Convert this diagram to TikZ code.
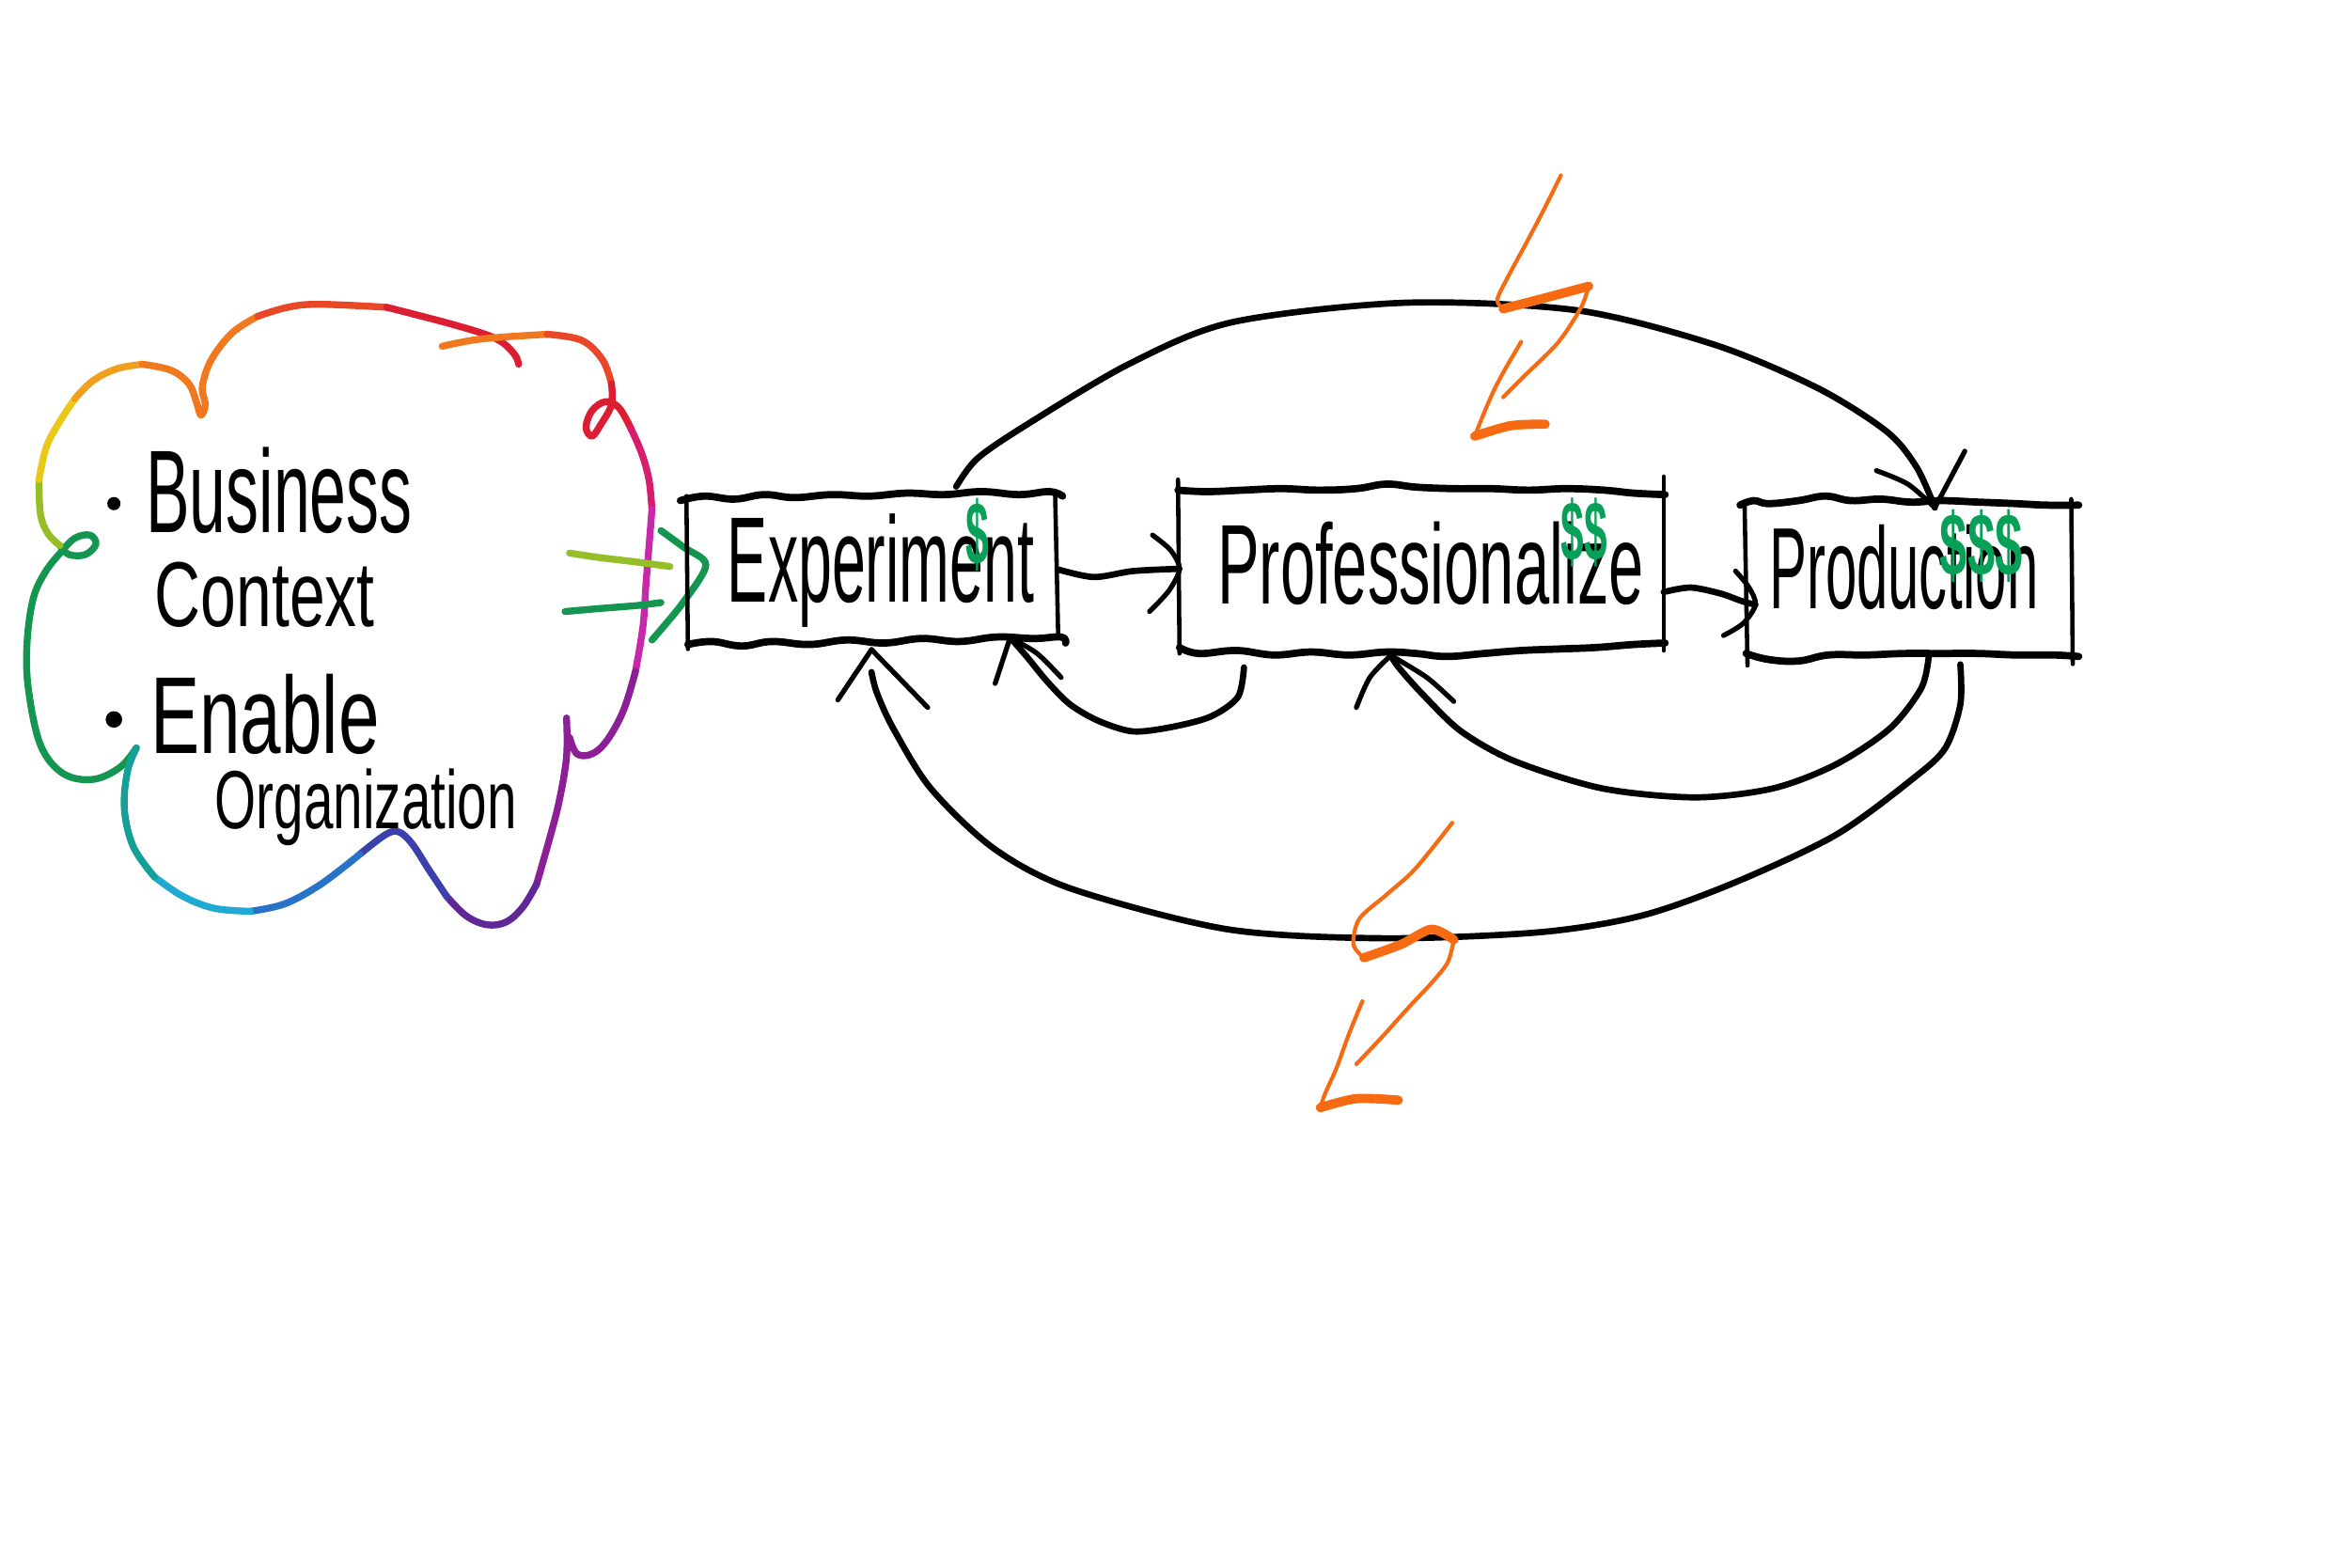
\documentclass[tikz,border=0pt]{standalone}
\usepackage{fontspec}
\setmainfont{Liberation Sans}
\usepackage{graphicx}
\definecolor{inkgreen}{RGB}{8,160,88}
\definecolor{boltorange}{RGB}{246,106,18}
\definecolor{cloudA}{RGB}{20,150,80}
\definecolor{cloudB}{RGB}{150,190,40}
\definecolor{cloudC}{RGB}{232,200,25}
\definecolor{cloudD}{RGB}{240,160,30}
\definecolor{cloudE}{RGB}{240,120,30}
\definecolor{cloudF}{RGB}{232,72,40}
\definecolor{cloudG}{RGB}{220,30,50}
\definecolor{cloudH}{RGB}{215,30,110}
\definecolor{cloudI}{RGB}{200,40,170}
\definecolor{cloudJ}{RGB}{140,30,150}
\definecolor{cloudK}{RGB}{95,40,150}
\definecolor{cloudL}{RGB}{60,65,170}
\definecolor{cloudM}{RGB}{40,115,200}
\definecolor{cloudN}{RGB}{30,170,210}
\definecolor{cloudO}{RGB}{20,160,150}
\tikzset{
  cloudline/.style={line width=2.1pt, line cap=round, line join=round, draw=#1},
  conn/.style={line width=1.9pt, line cap=round, line join=round, black},
  arm/.style={line width=1.5pt, line cap=round, line join=round, black},
  edgeH/.style={line width=2.2pt, line cap=round, line join=round, black},
  edgeV/.style={line width=1.3pt, line cap=round, black},
  boltthin/.style={boltorange, line width=1.2pt, line cap=round, line join=round},
  boltthick/.style={boltorange, line width=2.8pt, line cap=round, line join=round},
  hw/.style={inner sep=0pt, anchor=base west},
  boxn/.style={inner sep=0pt, draw=none, rectangle},
  dollar/.style={inner sep=0pt, text=inkgreen, font=\bfseries},
  bullet/.style={circle, fill=black, inner sep=0pt, minimum size=#1}
}
\begin{document}
\begin{tikzpicture}[x=0.015944cm, y=-0.015944cm]
\fill[white] (0,0) rectangle (1568,1046);
\useasboundingbox (0,0) rectangle (1568,1046);

% ---------- cloud (rainbow outline) ----------
\draw[cloudline=cloudA] plot[smooth, tension=0.6] coordinates {(91,499) (80,512) (62,520) (42,516) (27,497) (19,460) (18,430) (22,400) (30,382) (41,368) (50,359) (60,357) (64,363) (57,370) (46,370) (40,364)};
\draw[cloudline=cloudB] plot[smooth, tension=0.6] coordinates {(40,364) (32,356) (27,343) (26,320)};
\draw[cloudline=cloudC] plot[smooth, tension=0.6] coordinates {(26,320) (31,298) (40,281) (50,266)};
\draw[cloudline=cloudD] plot[smooth, tension=0.6] coordinates {(50,266) (62,254) (78,246) (95,243)};
\draw[cloudline=cloudE] plot[smooth, tension=0.6] coordinates {(95,243) (114,247) (126,256) (131,268) (134,277) (137,270) (135,258) (141,240) (155,222) (172,211)};
\draw[cloudline=cloudF] plot[smooth, tension=0.6] coordinates {(172,211) (192,205) (213,203) (258,205)};
\draw[cloudline=cloudG] plot[smooth, tension=0.6] coordinates {(258,205) (304,217) (331,226) (343,236) (346,243)};
\draw[cloudline=cloudE] plot[smooth, tension=0.6] coordinates {(295,231) (315,227) (334,225) (365,223)};
\draw[cloudline=cloudF] plot[smooth, tension=0.6] coordinates {(365,223) (388,227) (402,240) (408,256)};
\draw[cloudline=cloudG] plot[smooth, tension=0.6] coordinates {(408,256) (408,270) (401,283) (395,291) (391,285) (395,274) (404,268) (413,272) (421,286)};
\draw[cloudline=cloudH] plot[smooth, tension=0.6] coordinates {(421,286) (428,302) (433,320) (435,340)};
\draw[cloudline=cloudI] plot[smooth, tension=0.6] coordinates {(435,340) (433,365) (431,390) (429,418) (424,448)};
\draw[cloudline=cloudJ] plot[smooth, tension=0.6] coordinates {(424,448) (416,474) (405,494) (395,503) (385,503) (380,492)};
\draw[cloudline=cloudJ] plot[smooth, tension=0.6] coordinates {(378,479) (378,505) (373,535) (366,562) (358,590)};
\draw[cloudline=cloudK] plot[smooth, tension=0.6] coordinates {(358,590) (349,605) (338,615) (325,617) (311,611) (298,598)};
\draw[cloudline=cloudL] plot[smooth, tension=0.6] coordinates {(298,598) (286,580) (275,563) (266,555) (257,557) (240,570)};
\draw[cloudline=cloudM] plot[smooth, tension=0.6] coordinates {(240,570) (214,590) (190,603) (167,608)};
\draw[cloudline=cloudN] plot[smooth, tension=0.6] coordinates {(167,608) (143,606) (122,598) (103,585)};
\draw[cloudline=cloudO] plot[smooth, tension=0.6] coordinates {(103,585) (89,565) (83,540) (85,515) (91,499)};

% cloud -> Experiment arrow
\draw[cloudline=cloudB] plot[smooth] coordinates {(380,369) (400,372) (425,375) (447,378)};
\draw[cloudline=cloudA] plot[smooth] coordinates {(377,408) (400,406) (425,404) (441,402)};
\draw[cloudline=cloudA] plot[smooth, tension=0.5] coordinates {(441,354) (456,365) (471,377) (455,403) (435,427)};

% cloud texts
\node[bullet=4pt] (b1) at (76,336) {};
\node[bullet=5pt] (b2) at (76,480) {};
\node[hw] (tBus) at (97,355) {\resizebox{80.6pt}{25.8pt}{Business}};
\node[hw] (tCon) at (103,418) {\resizebox{66.5pt}{19.5pt}{Context}};
\node[hw] (tEna) at (100,503) {\resizebox{69.3pt}{24pt}{Enable}};
\node[hw] (tOrg) at (143,553) {\resizebox{91.4pt}{18.1pt}{Organization}};

% ---------- boxes ----------
\node[boxn, minimum width=112.7pt, minimum height=43.5pt] (exp) at (581.5,380) {};
\node[boxn, minimum width=146.2pt, minimum height=48.4pt] (prof) at (948.5,379.5) {};
\node[boxn, minimum width=99.6pt, minimum height=47.5pt] (prod) at (1273.5,387.5) {};

% Experiment border
\draw[edgeH] plot[smooth, tension=0.7] coordinates {(454,334) (470,331) (490,333) (510,330) (530,332) (555,330) (580,331) (605,329) (630,330) (655,328) (680,330) (700,328) (709,331)};
\draw[edgeV] (458,331) -- (459,433);
\draw[edgeV] (704,329) -- (706,422);
\draw[edgeH] plot[smooth, tension=0.7] coordinates {(459,430) (475,428) (495,431) (515,428) (540,430) (565,427) (590,429) (615,426) (640,428) (665,425) (690,426) (708,425) (711,429)};
% Professionalize border
\draw[edgeH] plot[smooth, tension=0.7] coordinates {(786,327) (805,328) (830,327) (855,326) (880,327) (905,326) (925,323) (945,325) (970,326) (995,326) (1020,327) (1045,326) (1070,327) (1090,329) (1111,330)};
\draw[edgeV] (786,320) -- (787,436);
\draw[edgeV] (1110,318) -- (1110,434);
\draw[edgeH] plot[smooth, tension=0.7] coordinates {(787,432) (800,436) (825,434) (850,437) (875,435) (900,437) (925,435) (945,436) (965,438) (990,436) (1015,434) (1040,433) (1065,432) (1090,430) (1111,429)};
% Production border
\draw[edgeH] plot[smooth, tension=0.7] coordinates {(1161,337) (1170,334) (1180,336) (1200,334) (1218,331) (1235,334) (1255,333) (1275,335) (1295,334) (1320,335) (1345,336) (1365,337) (1387,337)};
\draw[edgeV] (1164,335) -- (1166,444);
\draw[edgeV] (1382,333) -- (1383,443);
\draw[edgeH] plot[smooth, tension=0.7] coordinates {(1165,436) (1180,440) (1200,441) (1220,437) (1245,437) (1270,436) (1295,436) (1320,436) (1345,437) (1370,437) (1387,438)};

% box texts
\node[hw] (tExp) at (485,402) {\resizebox{92.8pt}{26.7pt}{Experiment}};
\node[hw] (tProf) at (812,403) {\resizebox{129pt}{24.9pt}{Professionalize}};
\node[hw] (tProd) at (1180,406) {\resizebox{81.5pt}{25.4pt}{Production}};
\node[dollar] (d1) at (652,357) {\resizebox{7pt}{20pt}{\$}};
\node[dollar] (d2) at (1057,355) {\resizebox{14pt}{19pt}{\$\$}};
\node[dollar] (d3) at (1322,364) {\resizebox{25pt}{20pt}{\$\$\$}};

% ---------- connectors ----------
% Experiment -> Professionalize
\draw[conn] plot[smooth] coordinates {(exp.east) (730,385) (756,381) (prof.west)};
\draw[arm] plot[smooth] coordinates {(769,357) (781,367) (prof.west) (780,394) (767,408)};
% Professionalize -> Production
\coordinate (pp1) at ([shift={(0,15.5)}]prof.east);
\coordinate (pp2) at ([shift={(8,16)}]prod.west);
\draw[conn] plot[smooth] coordinates {(pp1) (1128,392) (1148,396) (1162,401) (pp2)};
\draw[arm] plot[smooth] coordinates {(1158,381) (1167,392) (pp2) (1163,416) (1150,424)};
% top arc Experiment -> Production
\coordinate (aS) at ([shift={(56.5,-7)}]exp.north);
\coordinate (aE) at ([shift={(17.5,4)}]prod.north);
\draw[conn] plot[smooth] coordinates {(aS) (652,306) (684,284) (753,243) (822,215) (937,202) (1052,207) (1144,230) (1213,259) (1259,288) (1279,312) (aE)};
\draw[arm] plot[smooth] coordinates {(1252,314) (1273,323) (aE)};
\draw[arm] (1311,301) -- (aE);
% small arc Professionalize -> Experiment
\coordinate (sS) at ([shift={(-118.5,12)}]prof.south);
\coordinate (sE) at ([shift={(92.5,-3)}]exp.south);
\draw[conn] plot[smooth] coordinates {(sS) (826,465) (808,478) (782,485) (756,488) (733,481) (714,470) (699,455) (685,438) (sE)};
\draw[arm] (sE) -- (664,456);
\draw[arm] plot[smooth] coordinates {(sE) (692,436) (708,452)};
% medium arc Production -> Professionalize
\coordinate (mS) at ([shift={(13.5,-3)}]prod.south);
\coordinate (mE) at ([shift={(-20.5,4)}]prof.south);
\draw[conn] plot[smooth] coordinates {(mS) (1282,459) (1261,486) (1225,510) (1183,526) (1131,532) (1069,526) (1011,508) (975,488) (949,463) (933,445) (mE)};
\draw[arm] plot[smooth] coordinates {(mE) (914,452) (905,472)};
\draw[arm] plot[smooth] coordinates {(mE) (952,452) (970,468)};
% large arc Production -> Experiment
\coordinate (lS) at ([shift={(34.5,3)}]prod.south);
\coordinate (lE) at ([shift={(0,20)}]exp.south);
\coordinate (lT) at ([shift={(0,5)}]exp.south);
\draw[conn] plot[smooth] coordinates {(lS) (1308,470) (1298,499) (1277,519) (1225,557) (1157,589) (1095,611) (1027,622) (923,626) (819,620) (715,593) (663,566) (621,526) (596,486) (585,462) (lE)};
\draw[arm] (lT) -- (559,467);
\draw[arm] (lT) -- (619,472);

% ---------- lightning bolts ----------
\draw[boltthin] plot[smooth, tension=0.5] coordinates {(1041.5,117) (1030,140) (1019,161) (1006,185) (999,200) (1003,206)};
\draw[boltthick] plot[smooth, tension=0.5] coordinates {(1003,206) (1030,199) (1060,191)};
\draw[boltthin] plot[smooth, tension=0.5] coordinates {(1060,191) (1055,205) (1040,228) (1018,250) (1003,265)};
\draw[boltthin] plot[smooth, tension=0.5] coordinates {(1015,228) (1005,245) (997,260) (990,276) (984,291)};
\draw[boltthick] plot[smooth, tension=0.5] coordinates {(984,291) (1008,284) (1031,283)};

\draw[boltthin] plot[smooth, tension=0.5] coordinates {(969,549) (944,580) (925,597) (907,613) (903,630) (910,639)};
\draw[boltthick] plot[smooth, tension=0.5] coordinates {(910,639) (935,630) (955,620) (970,627)};
\draw[boltthin] plot[smooth, tension=0.5] coordinates {(970,627) (966,642) (955,656) (940,672) (922,692) (905,710)};
\draw[boltthin] plot[smooth, tension=0.5] coordinates {(909,668) (900,690) (892,712) (884,730) (881,739)};
\draw[boltthick] plot[smooth, tension=0.5] coordinates {(881,739) (905,733) (933,734)};
\end{tikzpicture}
\end{document}
